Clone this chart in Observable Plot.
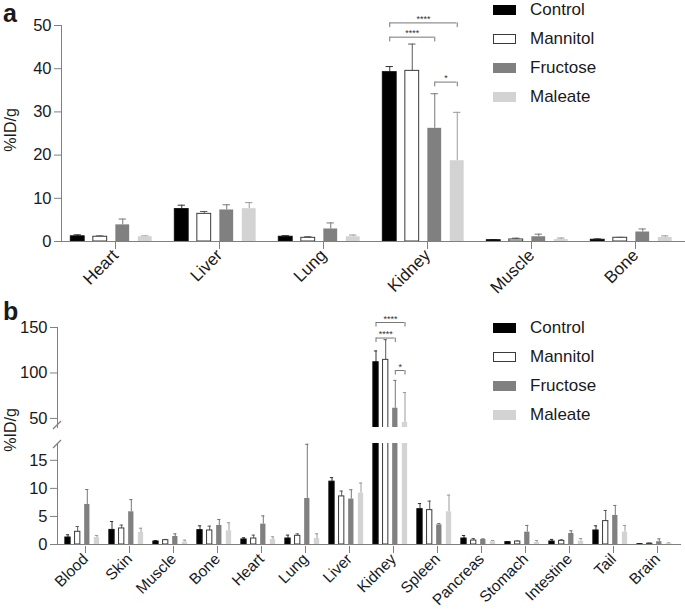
<!DOCTYPE html>
<html><head><meta charset="utf-8">
<script src="https://cdn.jsdelivr.net/npm/d3@7"></script>
<script src="https://cdn.jsdelivr.net/npm/@observablehq/plot@0.6"></script>
<style>
body{margin:0;background:#fff;}
#root{position:relative;width:685px;height:615px;font-family:Arial,"Liberation Sans",sans-serif;overflow:hidden;background:#fff;color:#1a1a1a;}
.abs{position:absolute;}
.abs svg{display:block;}
.panel{font-weight:bold;font-size:25px;line-height:25px;}
.ylab{font-size:16px;transform:translate(-50%,-50%) rotate(-90deg);white-space:nowrap;}
.leg{display:flex;align-items:center;font-size:17px;height:20px;}
.sw{width:23px;height:10px;margin-right:14px;box-sizing:border-box;}
</style></head><body><div id="root"></div>
<script>
// ---------- data ----------
const series = ["Control", "Mannitol", "Fructose", "Maleate"];

// panel a
const organsA = ["Heart", "Liver", "Lung", "Kidney", "Muscle", "Bone"];
const aControl      = [1.2, 7.5, 1.1, 39.2, 0.3, 0.4];
const aControlErr   = [0.35, 0.9, 0.25, 1.3, 0.1, 0.2];
const aMannitol     = [1.1, 6.4, 0.85, 39.5, 0.47, 0.86];
const aMannitolErr  = [0.2, 0.55, 0.25, 6.2, 0.3, 0.1];
const aFructose     = [3.85, 7.3, 2.9, 26.2, 1.1, 2.2];
const aFructoseErr  = [1.35, 1.2, 1.4, 8.0, 0.6, 0.7];
const aMaleate      = [1.1, 7.6, 1.1, 18.7, 0.45, 0.93];
const aMaleateErr   = [0.2, 1.4, 0.4, 11.2, 0.35, 0.37];
const ticksA = [0, 10, 20, 30, 40, 50];
const bracketsA = [
  {organ: "Kidney", from: "Control", to: "Maleate", y: 50.6, label: "****"},
  {organ: "Kidney", from: "Control", to: "Fructose", y: 47.3, label: "****"},
  {organ: "Kidney", from: "Fructose", to: "Maleate", y: 36.9, label: "*"}
];

// panel b
const organsB = ["Blood", "Skin", "Muscle", "Bone", "Heart", "Lung", "Liver", "Kidney", "Spleen", "Pancreas", "Stomach", "Intestine", "Tail", "Brain"];
const bControl      = [1.25, 2.6, 0.53, 2.56, 0.9, 1.07, 11.2, 111.8, 6.3, 1.07, 0.42, 0.53, 2.5, 0.05];
const bControlErr   = [0.48, 1.5, 0.17, 0.77, 0.3, 0.6, 0.72, 12.4, 1.0, 0.53, 0.11, 0.37, 0.83, 0.05];
const bMannitol     = [2.26, 2.86, 0.77, 2.5, 1.07, 1.55, 8.57, 114.4, 6.13, 0.71, 0.53, 0.65, 4.17, 0.15];
const bMannitolErr  = [0.94, 0.6, 0.13, 0.77, 0.6, 0.35, 0.95, 22.2, 1.6, 0.36, 0.07, 0.18, 1.9, 0.1];
const bFructose     = [7.14, 5.83, 1.43, 3.4, 3.63, 8.2, 8.1, 61.2, 3.5, 0.9, 2.2, 1.96, 5.18, 0.5];
const bFructoseErr  = [2.66, 2.17, 0.47, 1.06, 1.47, 9.66, 1.66, 30.6, 0.25, 0.1, 1.2, 0.48, 1.78, 0.5];
const bMaleate      = [1.25, 2.14, 0.42, 2.44, 0.9, 1.07, 9.17, 45.6, 5.83, 0.48, 0.36, 0.6, 2.2, 0.2];
const bMaleateErr   = [0.35, 0.76, 0.35, 1.43, 0.47, 0.83, 1.78, 32.8, 2.97, 0.23, 0.35, 0.47, 1.2, 0.1];
const ticksBLow = [0, 5, 10, 15];
const ticksBHigh = [50, 100, 150];
const bracketsB = [
  {organ: "Kidney", from: "Control", to: "Maleate", y: 155.5, label: "****"},
  {organ: "Kidney", from: "Control", to: "Fructose", y: 138.4, label: "****"},
  {organ: "Kidney", from: "Fructose", to: "Maleate", y: 102.7, label: "*"}
];

// ---------- styles ----------
const fills   = ["#000000", "#ffffff", "#808080", "#d3d3d3"];
const strokes = ["#111111", "#3a3a3a", "none", "none"];
const errCol  = ["#333333", "#5a5a5a", "#777777", "#9a9a9a"];
const axisCol = "#808080";
const font = "Arial, 'Liberation Sans', sans-serif";

function rows(organs, means, errs) {
  const out = [];
  series.forEach((s, si) => organs.forEach((o, oi) =>
    out.push({organ: o, series: s, value: means[si][oi], err: errs[si][oi]})));
  return out;
}
const dataA = rows(organsA, [aControl, aMannitol, aFructose, aMaleate], [aControlErr, aMannitolErr, aFructoseErr, aMaleateErr]);
const dataB = rows(organsB, [bControl, bMannitol, bFructose, bMaleate], [bControlErr, bMannitolErr, bFructoseErr, bMaleateErr]);

function groupMarks(data, B, offsets, barW, capW, clip) {
  const marks = [];
  series.forEach((s, i) => {
    const d = data.filter(r => r.series === s);
    const inset = (B - barW) / 2;
    marks.push(Plot.ruleX(d, {x: "organ", y1: "value", y2: r => r.value + r.err, dx: offsets[i], stroke: errCol[i], strokeWidth: 1, clip}));
    marks.push(Plot.tickY(d, {x: "organ", y: r => r.value + r.err, dx: offsets[i], insetLeft: (B - capW) / 2, insetRight: (B - capW) / 2, stroke: errCol[i], strokeWidth: 1, clip}));
    marks.push(Plot.barY(d, {x: "organ", y1: 0, y2: "value", dx: offsets[i], insetLeft: inset, insetRight: inset, fill: fills[i], stroke: strokes[i], strokeWidth: 1, clip}));
  });
  return marks;
}

function bracketMarks(brackets, B, offsets, len, fontSize) {
  const marks = [];
  brackets.forEach(b => {
    const f = offsets[series.indexOf(b.from)], t = offsets[series.indexOf(b.to)];
    marks.push(Plot.tickY([b], {x: "organ", y: "y", insetLeft: B / 2 + f, insetRight: B / 2 - t, stroke: "#777", strokeWidth: 1}));
    marks.push(Plot.ruleX([b], {x: "organ", y1: "y", y2: d => d.y - len, dx: f, stroke: "#777", strokeWidth: 1}));
    marks.push(Plot.ruleX([b], {x: "organ", y1: "y", y2: d => d.y - len, dx: t, stroke: "#777", strokeWidth: 1}));
    marks.push(Plot.text([b], {x: "organ", y: "y", text: "label", dx: (f + t) / 2, dy: -1, lineAnchor: "bottom", fontSize, fill: "#333"}));
  });
  return marks;
}

const root = document.getElementById("root");
function place(el, top, left = 0) {
  const d = document.createElement("div");
  d.className = "abs"; d.style.top = top + "px"; d.style.left = left + "px";
  d.appendChild(el); root.appendChild(d); return d;
}
function html(str, top, left, cls) {
  const d = document.createElement("div");
  d.className = "abs " + (cls || ""); d.style.top = top + "px"; d.style.left = left + "px";
  d.innerHTML = str; root.appendChild(d); return d;
}

const xAxisOpts = {tickSize: 7, tickPadding: 3, tickRotate: -45, stroke: axisCol, fill: "#1a1a1a", label: null, fontSize: 17, dx: 4, dy: 1};
const yAxisOpts = {tickSize: 7, tickPadding: 3, stroke: axisCol, fill: "#1a1a1a", label: null, fontSize: 16.5};

// ---------- panel a ----------
const BA = (685 - 57) / organsA.length;
const offA = [-33.75, -11.25, 11.25, 33.75];
const plotA = Plot.plot({
  width: 685, height: 290,
  marginTop: 25, marginBottom: 49, marginLeft: 61, marginRight: 0,
  style: {fontFamily: font, fontSize: "17px", background: "transparent", overflow: "visible"},
  x: {type: "band", domain: organsA, range: [57, 685], padding: 0},
  y: {domain: [0, 50]},
  marks: [
    ...groupMarks(dataA, BA, offA, 14.5, 8, false),
    Plot.ruleY([0], {stroke: axisCol}),
    Plot.frame({anchor: "left", stroke: axisCol}),
    Plot.axisY({...yAxisOpts, ticks: ticksA}),
    Plot.axisX(xAxisOpts),
    ...bracketMarks(bracketsA, BA, offA, 1.1, 9)
  ]
});
place(plotA, 0);

// ---------- panel b ----------
const BB = (681.4 - 55.3) / organsB.length;
const offB = [-14.5, -4.8, 4.8, 14.5];
const plotBHigh = Plot.plot({
  width: 685, height: 131,
  marginTop: 31, marginBottom: 0, marginLeft: 57, marginRight: 4,
  style: {fontFamily: font, fontSize: "17px", background: "transparent", overflow: "visible"},
  x: {type: "band", domain: organsB, range: [55.3, 681.4], padding: 0, axis: null},
  y: {domain: [40, 150]},
  marks: [
    ...groupMarks(dataB, BB, offB, 6, 4, true),
    Plot.frame({anchor: "left", stroke: axisCol}),
    Plot.axisY({...yAxisOpts, ticks: ticksBHigh}),
    ...bracketMarks(bracketsB, BB, offB, 5, 9)
  ]
});
place(plotBHigh, 296);

const plotBLow = Plot.plot({
  width: 685, height: 175,
  marginTop: 3, marginBottom: 71, marginLeft: 57, marginRight: 4,
  style: {fontFamily: font, fontSize: "17px", background: "transparent", overflow: "visible"},
  x: {type: "band", domain: organsB, range: [55.3, 681.4], padding: 0},
  y: {domain: [0, 18]},
  marks: [
    ...groupMarks(dataB, BB, offB, 6, 4, true),
    Plot.ruleY([0], {stroke: axisCol}),
    Plot.frame({anchor: "left", stroke: axisCol}),
    Plot.axisY({...yAxisOpts, ticks: ticksBLow}),
    Plot.axisX({...xAxisOpts, fontSize: 15.5, dx: 3, dy: 2})
  ]
});
place(plotBLow, 440);

// axis break marks
const brk = document.createElementNS("http://www.w3.org/2000/svg", "svg");
brk.setAttribute("width", 20); brk.setAttribute("height", 40);
brk.innerHTML = '<line x1="1" y1="13" x2="9" y2="5" stroke="#808080" stroke-width="1.2"/>' +
                '<line x1="1" y1="32" x2="9" y2="24" stroke="#808080" stroke-width="1.2"/>';
place(brk, 416, 52);

// ---------- text ----------
html("a", 1, 3, "panel");
html("b", 299, 3, "panel");
html("%ID/g", 130, 11, "ylab");
html("%ID/g", 430, 11, "ylab");

function legend(top) {
  const rowsY = [0, 29, 58, 87];
  series.forEach((s, i) => {
    html('<div class="sw" style="background:' + fills[i] + ';' + (i === 1 ? 'border:1px solid #3a3a3a;' : '') + '"></div>' + s, top + rowsY[i], 493, "leg");
  });
}
legend(0);
legend(318);
</script>
</body></html>
